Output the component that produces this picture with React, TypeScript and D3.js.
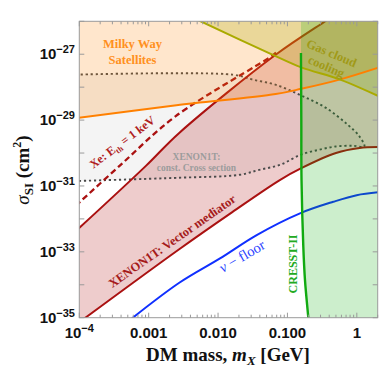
import React from 'react';
import * as d3 from 'd3';

// all values: [log10 m_X (GeV), log10 sigma_SI (cm^2)]
const milkyWay: [number, number][] = [[-4.05, -28.94], [-2.6, -28.55], [-1.17, -28.21], [-0.8, -28.05], [-0.25, -27.77], [0.32, -27.4]];
const gasCloud: [number, number][] = [[-2.35, -25.9], [-2.25, -26.0], [-1.21, -27.02], [-0.8, -27.4], [-0.24, -27.77], [0.32, -28.28]];
const xenonConstUpper: [number, number][] = [[-4.05, -27.62], [-1.79, -27.62], [-1.5, -27.77], [-1.165, -27.93], [-0.805, -28.25], [-0.444, -28.63], [-0.131, -29.14], [0.036, -29.49], [0.108, -29.8]];
const xenonConstLower: [number, number][] = [[0.108, -29.8], [-0.059, -29.78], [-0.3, -29.8], [-0.541, -29.9], [-0.805, -30.05], [-1.107, -30.36], [-1.406, -30.51], [-1.684, -30.66], [-2.559, -30.75], [-4.05, -30.85]];
const vectorLower: [number, number][] = [[-3.97, -35.09], [-2.56, -32.92], [-1.8, -31.8], [-1.11, -30.82], [-0.8, -30.46], [-0.3, -30.0], [0.04, -29.85], [0.32, -29.82]];
const vectorUpper: [number, number][] = [[-4.05, -32.37], [-3.04, -30.39], [-2.56, -29.39], [-1.165, -27.01], [-0.47, -26.02], [-0.4, -25.92]];
const xeThreshold: [number, number][] = [[-4.05, -31.6], [-3.42, -30.39], [-2.61, -28.88], [-1.21, -27.03], [-1.14, -26.9]];
const nuFloor: [number, number][] = [[-3.3, -35.12], [-2.559, -33.94], [-1.972, -33.2], [-1.443, -32.49], [-0.819, -31.83], [-0.339, -31.48], [-0.002, -31.28], [0.32, -31.19]];
const cresst: [number, number][] = [[-0.805, -26.96], [-0.8, -29.0], [-0.797, -30.82], [-0.771, -32.85], [-0.747, -33.86], [-0.699, -35.0], [-0.695, -35.1]];

const xDomain = [1e-4, 2];
const yDomain = [1e-35, 1e-26];
const xMajor = [1e-4, 1e-3, 1e-2, 1e-1, 1];
const xMajorText = ['', '0.001', '0.010', '0.100', '1'];
const yDecades = [-35, -34, -33, -32, -31, -30, -29, -28, -27, -26];
const yLabelExps = [-35, -33, -31, -29, -27];

const X0 = 79.3, X1 = 377.7, Y0 = 21.3, Y1 = 317.7;
const SERIF = 'Liberation Serif, Times New Roman, serif';
const SANS = 'Liberation Sans, Arial, sans-serif';

export default function App() {
  const x = d3.scaleLog().domain(xDomain).range([X0, X1]);
  const y = d3.scaleLog().domain(yDomain).range([Y1, Y0]);
  const px = (p: [number, number]): [number, number] => [x(Math.pow(10, p[0])), y(Math.pow(10, p[1]))];
  const line = d3.line().curve(d3.curveCatmullRom.alpha(0.5));
  const path = (pts: [number, number][]) => line(pts.map(px)) as string;

  const T = Y0 - 6, B = Y1 + 6, L = X0 - 6, R = X1 + 6;

  const milkyFill = path(milkyWay) + `L${R},${T}L${L},${T}Z`;
  const gasFill = path(gasCloud) + `L${R},${T}Z`;
  const constPts = [...xenonConstUpper, ...xenonConstLower.slice(1)];
  const constLine = path(constPts);
  const constFill = constLine + 'Z';
  const upperTopX = px(vectorUpper[vectorUpper.length - 1])[0];
  const vectorFill = path(vectorLower) + `L${R},${T}L${upperTopX},${T}` +
    'L' + (line([...vectorUpper].reverse().map(px)) as string).slice(1) + `L${L},${B}Z`;
  const cTop = px(cresst[0]);
  const cresstFill = `M${cTop[0]},${T}` + 'L' + path(cresst).slice(1) + `L${R},${B}L${R},${T}Z`;

  const xMinor = x.ticks().filter((v) => !xMajor.some((m) => Math.abs(m - v) / v < 1e-6));

  const frame = '#9a9a9a';
  const red = '#aa1111';

  return (
    <svg width={382} height={372} style={{ position: 'absolute', left: 0, top: 0, background: '#fff' }}>
      <defs>
        <clipPath id="plot">
          <rect x={X0} y={Y0} width={X1 - X0} height={Y1 - Y0} />
        </clipPath>
      </defs>
      <g clipPath="url(#plot)">
        <path d={constFill} fill="#808080" fillOpacity={0.09} />
        <path d={vectorFill} fill="#aa0000" fillOpacity={0.2} />
        <path d={constLine} fill="none" stroke="#4a4a4a" strokeWidth={1.9} strokeDasharray="2.2,2.8" />
        <path d={path(nuFloor)} fill="none" stroke="#1030ff" strokeWidth={2} />
        <path d={path(vectorLower)} fill="none" stroke={red} strokeWidth={2} />
        <path d={path(vectorUpper)} fill="none" stroke={red} strokeWidth={2} />
        <path d={path(xeThreshold)} fill="none" stroke={red} strokeWidth={2.3} strokeDasharray="6,3.5" />
        <path d={milkyFill} fill="#ff8000" fillOpacity={0.2} />
        <path d={gasFill} fill="#aaaa00" fillOpacity={0.25} />
        <path d={cresstFill} fill="#00aa00" fillOpacity={0.2} />
        <path d={path(milkyWay)} fill="none" stroke="#ff8000" strokeWidth={2} />
        <path d={path(gasCloud)} fill="none" stroke="#aaaa00" strokeWidth={2} />
        <path d={path(cresst)} fill="none" stroke="#11aa11" strokeWidth={2.4} />
      </g>

      {/* frame & ticks */}
      <rect x={X0} y={Y0} width={X1 - X0} height={Y1 - Y0} fill="none" stroke={frame} strokeWidth={1} />
      {xMajor.map((v, i) => (
        <g key={'xm' + i}>
          <line x1={x(v)} x2={x(v)} y1={Y1} y2={Y1 - 5} stroke={frame} />
          <line x1={x(v)} x2={x(v)} y1={Y0} y2={Y0 + 5} stroke={frame} />
        </g>
      ))}
      {xMinor.map((v, i) => (
        <g key={'xn' + i}>
          <line x1={x(v)} x2={x(v)} y1={Y1} y2={Y1 - 3} stroke={frame} />
          <line x1={x(v)} x2={x(v)} y1={Y0} y2={Y0 + 3} stroke={frame} />
        </g>
      ))}
      {yDecades.map((e, i) => (
        <g key={'yt' + i}>
          <line x1={X0} x2={X0 + 5} y1={y(Math.pow(10, e))} y2={y(Math.pow(10, e))} stroke={frame} />
          <line x1={X1} x2={X1 - 5} y1={y(Math.pow(10, e))} y2={y(Math.pow(10, e))} stroke={frame} />
        </g>
      ))}

      {/* tick labels */}
      {yLabelExps.map((e, i) => (
        <text key={'yl' + i} x={75} y={y(Math.pow(10, e)) + 5} textAnchor="end" fontFamily={SANS} fontWeight="bold" fontSize={15} fill="#111">
          10<tspan dy={-6} fontSize={11}>{'\u2212' + Math.abs(e)}</tspan>
        </text>
      ))}
      {xMajor.map((v, i) => (
        <text key={'xl' + i} x={x(v)} y={338} textAnchor="middle" fontFamily={SANS} fontWeight="bold" fontSize={15} fill="#111">
          {i === 0 ? (<>10<tspan dy={-6} fontSize={11}>{'\u22124'}</tspan></>) : xMajorText[i]}
        </text>
      ))}

      {/* axis titles */}
      <text x={228} y={361} textAnchor="middle" fontFamily={SERIF} fontWeight="bold" fontSize={19} fill="#111">
        DM mass, <tspan fontStyle="italic">m</tspan><tspan fontStyle="italic" fontSize={13} dy={4}>X</tspan><tspan dy={-4}> [GeV]</tspan>
      </text>
      <text transform="translate(29,170) rotate(-90)" textAnchor="middle" fontFamily={SERIF} fontWeight="bold" fontSize={19} fill="#111">
        <tspan fontStyle="italic" fontWeight="normal">σ</tspan><tspan fontSize={13} dy={4}>SI</tspan><tspan dy={-4}> (cm</tspan><tspan fontSize={12} dy={-8}>2</tspan><tspan dy={8}>)</tspan>
      </text>

      {/* annotations */}
      <text textAnchor="middle" fontFamily={SERIF} fontWeight="bold" fontSize={12.5} fill="#ff9020">
        <tspan x={132.5} y={48}>Milky Way</tspan>
        <tspan x={132.5} y={64}>Satellites</tspan>
      </text>
      <text transform="translate(331.7,53) rotate(23)" textAnchor="middle" dy="0.35em" fontFamily={SERIF} fontWeight="bold" fontSize={12.5} fill="#a09a18">Gas cloud</text>
      <text transform="translate(326.5,66.3) rotate(23)" textAnchor="middle" dy="0.35em" fontFamily={SERIF} fontWeight="bold" fontSize={12.5} fill="#a09a18">cooling</text>
      <text transform="translate(122,142) rotate(-37)" textAnchor="middle" dy="0.35em" fontFamily={SERIF} fontWeight="bold" fontSize={12} fill="#b02020">
        Xe: E<tspan fontSize={8} dy={3}>th</tspan><tspan dy={-3}> = 1 keV</tspan>
      </text>
      <text textAnchor="middle" fontFamily={SERIF} fontWeight="bold" fontSize={9.5} fill="#9c9c9c">
        <tspan x={196.5} y={159.5}>XENON1T:</tspan>
        <tspan x={196.5} y={171}>const. Cross section</tspan>
      </text>
      <text transform="translate(172,241) rotate(-35)" textAnchor="middle" dy="0.35em" fontFamily={SERIF} fontWeight="bold" fontSize={12.5} fill="#a51a1a">XENON1T:  Vector mediator</text>
      <text transform="translate(242,256) rotate(-30)" textAnchor="middle" dy="0.35em" fontFamily={SERIF} fontSize={14.5} fill="#2a3fff"><tspan fontStyle="italic">ν</tspan> − floor</text>
      <text transform="translate(296.7,264) rotate(-90)" textAnchor="middle" fontFamily={SERIF} fontWeight="bold" fontSize={12} fill="#22aa22">CRESST-II</text>
    </svg>
  );
}
